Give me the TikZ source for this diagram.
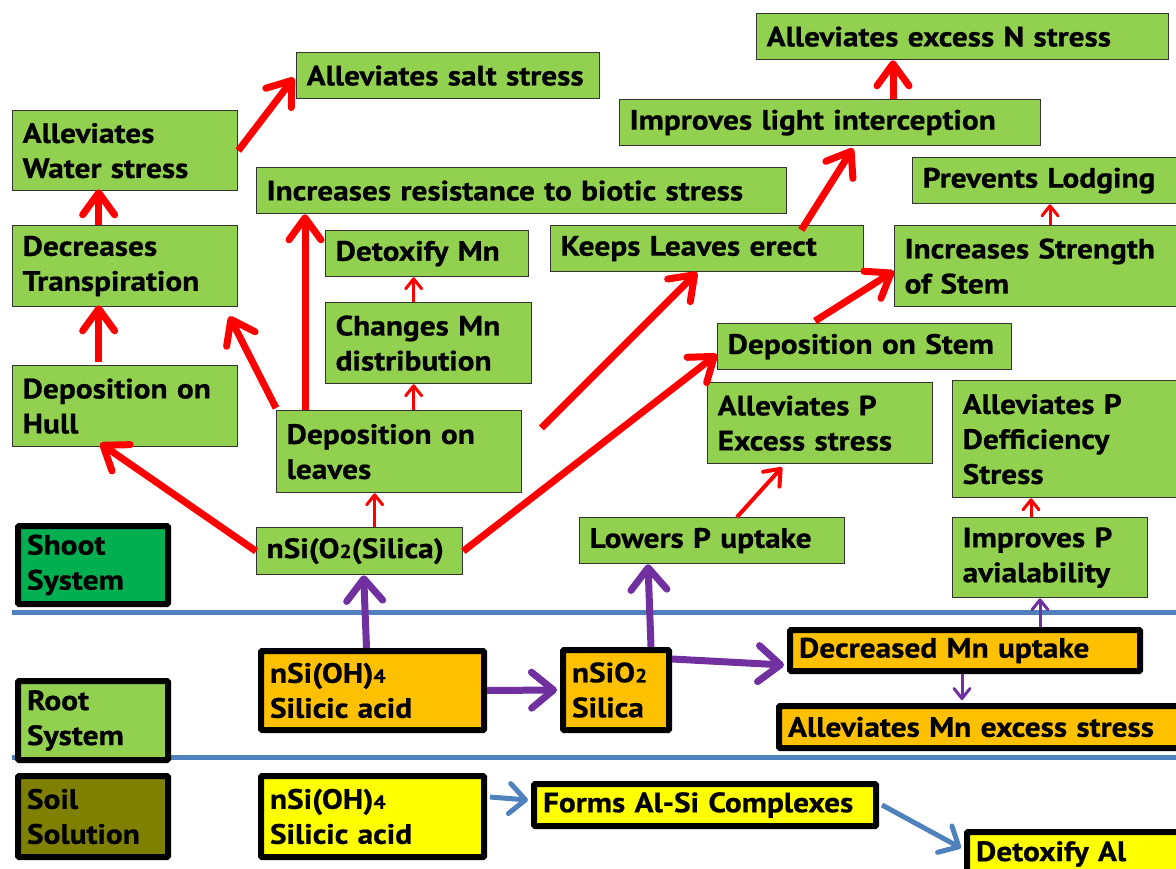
\documentclass[tikz,border=0pt]{standalone}
\usepackage{fontspec}
\setmainfont{PT Sans}[FakeStretch=1.12,BoldFeatures={FakeBold=0.6}]
\usetikzlibrary{arrows.meta,calc}
\definecolor{leafgreen}{HTML}{92D050}
\definecolor{shootgreen}{HTML}{00B050}
\definecolor{soilolive}{HTML}{808000}
\definecolor{rootorange}{HTML}{FFC000}
\definecolor{soilyellow}{HTML}{FFFF00}
\definecolor{uptakepurple}{HTML}{7030A0}
\definecolor{layerblue}{HTML}{4F81BD}
\newcommand{\sm}[1]{{\fontsize{19}{19}\selectfont #1}}
\tikzset{
  gbox/.style={draw=black!80, line width=1.3pt, fill=leafgreen, anchor=north west,
    align=left, inner xsep=10pt, inner ysep=0pt, font=\bfseries\fontsize{28}{35}\selectfont},
  kbox/.style={gbox, draw=black, line width=6pt, inner xsep=9pt, rounded corners=1pt},
  rarr/.style={draw=red, line width=7pt, -{Straight Barb[length=22pt,width=32pt,round]}},
  rarrmid/.style={draw=red, line width=4pt, -{Straight Barb[length=14pt,width=22pt,round]}},
  rarrthin/.style={draw=red, line width=3pt, -{Straight Barb[length=10pt,width=16pt,round]}},
  parr/.style={draw=uptakepurple, line width=7pt, -{Straight Barb[length=22pt,width=36pt,round]}},
  parrthin/.style={draw=uptakepurple, line width=3pt, -{Straight Barb[length=10pt,width=16pt,round]}},
  barr/.style={draw=layerblue, line width=5pt, -{Straight Barb[length=16pt,width=30pt,round]}}
}
\begin{document}
\begin{tikzpicture}[x=1pt,y=-1pt]
  \useasboundingbox (0,0) rectangle (1176,869);
  % layer borders
  \foreach \y in {612,757}{\draw[layerblue, line width=5pt] (12,\y) -- (1176,\y);}

  % shoot system
  \node[gbox, text width=392, minimum height=46] (exN) at (756,13) {Alleviates excess N stress};
  \node[gbox, text width=283, minimum height=46] (salt) at (296,52) {Alleviates salt stress};
  \node[gbox, text width=205, minimum height=80] (water) at (12,110) {Alleviates\\Water stress};
  \node[gbox, text width=401, minimum height=46] (light) at (619,99) {Improves light interception};
  \node[gbox, text width=510, minimum height=46] (biotic) at (256,167) {Increases resistance to biotic stress};
  \node[gbox, text width=246, minimum height=46] (lodging) at (912,157) {Prevents Lodging};
  \node[gbox, text width=205, minimum height=81] (transp) at (12,225) {Decreases\\Transpiration};
  \node[gbox, text width=183, minimum height=46] (detoxmn) at (325,230) {Detoxify Mn};
  \node[gbox, text width=293, minimum height=46] (erect) at (550,225) {Keeps Leaves erect};
  \node[gbox, text width=264, minimum height=81] (strength) at (894,225) {Increases Strength\\of Stem};
  \node[gbox, text width=186, minimum height=81] (changemn) at (325,302) {Changes Mn\\distribution};
  \node[gbox, text width=274, minimum height=46] (depstem) at (717,323) {Deposition on Stem};
  \node[gbox, text width=205, minimum height=81] (hull) at (12,365) {Deposition on\\Hull};
  \node[gbox, text width=225, minimum height=82] (leaves) at (276,410) {Deposition on\\leaves};
  \node[gbox, text width=205, minimum height=81] (pexcess) at (707,382) {Alleviates P\\Excess stress};
  \node[gbox, text width=206, minimum height=117] (pdef) at (952,380) {Alleviates P\\Defficiency\\Stress};
  \node[gbox, text width=186, minimum height=47] (silica) at (256,527) {nSi(O\sm{2}(Silica)};
  \node[gbox, text width=245, minimum height=46] (lowp) at (579,517) {Lowers P uptake};
  \node[gbox, text width=175, minimum height=80] (pavail) at (952,517) {Improves P\\avialability};

  % layer labels
  \node[kbox, fill=shootgreen, text width=132, minimum height=78] (shoot) at (15,523) {Shoot\\System};
  \node[kbox, fill=leafgreen, text width=132, minimum height=79] (root) at (15,678) {Root\\System};
  \node[kbox, fill=soilolive, text width=132, minimum height=81] (soil) at (15,773) {Soil\\Solution};

  % root system
  \node[kbox, fill=rootorange, text width=205, minimum height=79] (acidR) at (258,648) {nSi(OH)\sm{4}\\Silicic acid};
  \node[kbox, fill=rootorange, text width=88, minimum height=80] (silicaR) at (560,647) {nSiO\sm{2}\\Silica};
  \node[kbox, fill=rootorange, text width=332, minimum height=41] (mnup) at (787,627) {Decreased Mn uptake};
  \node[kbox, fill=rootorange, text width=388, minimum height=42] (mnex) at (776,703) {Alleviates Mn excess stress};

  % soil solution
  \node[kbox, fill=soilyellow, text width=205, minimum height=81] (acidS) at (258,773) {nSi(OH)\sm{4}\\Silicic acid};
  \node[kbox, fill=soilyellow, text width=324, minimum height=42] (alsi) at (531,781) {Forms Al-Si Complexes};
  \node[kbox, fill=soilyellow, text width=200, minimum height=44] (detal) at (964,829) {Detoxify Al};
  \fill[soilyellow] ([yshift=-2pt]detal.south west) rectangle (1180,872);
  \draw[black, line width=6pt] (detal.south west) -- ++(0,10);

  % red arrows
  \draw[rarr] (silica.west) -- ($(hull.south)+(-25,-4)$);
  \draw[rarrthin] ($(silica.north)+(15,0)$) -- ($(leaves.south)+(-24.5,0)$);
  \draw[rarr] (silica.east) -- ($(depstem.south west)+(0,-16)$);
  \draw[rarr] ($(leaves.north west)+(0,-2)$) -- ($(transp.south east)+(-9,9)$);
  \draw[rarr] ($(leaves.north west)+(29,0)$) -- ($(biotic.south west)+(49,0)$);
  \draw[rarrthin] ($(leaves.north)+(14.5,0)$) -- ($(changemn.south)+(-15,0)$);
  \draw[rarrthin] ($(changemn.north)+(-15,0)$) -- ($(detoxmn.south)+(-13.5,0)$);
  \draw[rarr] ($(leaves.north east)+(19,18)$) -- ($(erect.south west)+(147,0)$);
  \draw[rarr] ($(erect.north east)+(-63,5)$) -- ($(light.south west)+(234,2)$);
  \draw[rarr] ($(light.north west)+(274,0)$) -- ($(exN.south west)+(137,0)$);
  \draw[rarr] ($(depstem.north west)+(98,-2)$) -- ($(strength.west)+(0,5)$);
  \draw[rarrthin] ($(strength.north west)+(156,0)$) -- ($(lodging.south west)+(138,0)$);
  \draw[rarr] ($(hull.north)+(-26.5,-3)$) -- ($(transp.south)+(-26.5,-2)$);
  \draw[rarr] ($(transp.north)+(-26.5,0)$) -- ($(water.south)+(-26.5,-2)$);
  \draw[rarr] (water.east) -- ($(salt.west)+(-2,2)$);
  \draw[rarrmid] ($(lowp.north west)+(158,0)$) -- ($(pexcess.south west)+(75,3)$);
  \draw[rarrthin] ($(pavail.north west)+(79,0)$) -- ($(pdef.south west)+(79,0)$);

  % purple arrows
  \draw[parr] ($(acidR.north)+(-6,0)$) -- ($(silica.south)+(4,0)$);
  \draw[parr] (acidR.east) -- ($(silicaR.west)+(-3,0)$);
  \draw[parr] ($(silicaR.north)+(35,0)$) -- ($(lowp.south west)+(69,0)$);
  \draw[parr] ($(silicaR.north east)+(0,12)$) -- ($(mnup.south west)+(-3,-9)$);
  \draw[parrthin] ($(mnup.north west)+(253,0)$) -- ($(pavail.south west)+(88,0)$);
  \draw[parrthin] ($(mnup.south west)+(175,0)$) -- ($(mnex.north west)+(186,-3)$);

  % blue arrows
  \draw[barr] ($(acidS.north east)+(3,24)$) -- ($(alsi.west)+(-3,-5)$);
  \draw[barr] ($(alsi.east)+(3,0)$) -- ($(detal.north west)+(-3,19)$);
\end{tikzpicture}
\end{document}
